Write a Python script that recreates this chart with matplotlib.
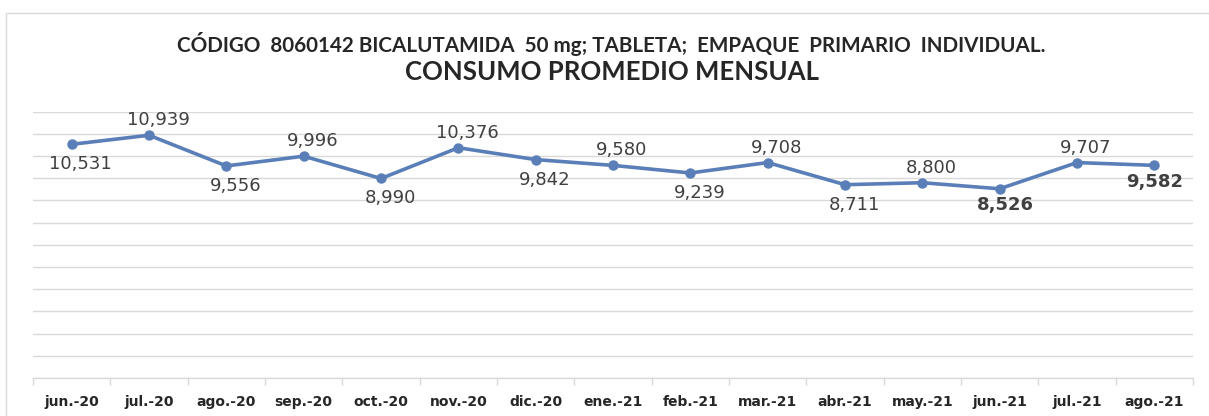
import matplotlib
matplotlib.use("Agg")
import matplotlib.pyplot as plt
from matplotlib.patches import Rectangle

months = ["jun.-20", "jul.-20", "ago.-20", "sep.-20", "oct.-20", "nov.-20", "dic.-20",
          "ene.-21", "feb.-21", "mar.-21", "abr.-21", "may.-21", "jun.-21", "jul.-21", "ago.-21"]
consumo = [10531, 10939, 9556, 9996, 8990, 10376, 9842, 9580, 9239, 9708, 8711, 8800, 8526, 9707, 9582]
label_pos = ["below", "above", "below", "above", "below", "above", "below", "above",
             "below", "above", "below", "above", "below", "above", "below"]
bold_labels = [12, 14]

title1 = "CÓDIGO  8060142 BICALUTAMIDA  50 mg; TABLETA;  EMPAQUE  PRIMARIO  INDIVIDUAL."
title2 = "CONSUMO PROMEDIO MENSUAL"

W, H = 1209, 416
fig = plt.figure(figsize=(W / 100, H / 100), dpi=100)
fig.patch.set_facecolor("white")

# outer chart border
fig.patches.append(Rectangle((6 / W, -0.05), 1.05, (416 - 13) / H + 0.05, transform=fig.transFigure,
                             fill=False, edgecolor="#d9d9d9", linewidth=1.0))

ax = fig.add_axes([33 / W, (H - 378) / H, (1193 - 33) / W, (378 - 111.7) / H])
x = list(range(len(months)))
ax.plot(x, consumo, color="#5a7fb8", linewidth=2.6, marker="o", markersize=6.5,
        markerfacecolor="#5a7fb8", markeredgecolor="#5a7fb8", solid_capstyle="round", zorder=3)

ax.set_xlim(-0.5, len(months) - 0.5)
ax.set_ylim(0, 12000)
ax.set_yticks(range(0, 12001, 1000))
ax.yaxis.grid(True, color="#d9d9d9", linewidth=1.0)
ax.set_axisbelow(True)
ax.tick_params(axis="y", left=False, labelleft=False)
for s in ["left", "right", "top"]:
    ax.spines[s].set_visible(False)
ax.spines["bottom"].set_color("#d9d9d9")
ax.spines["bottom"].set_linewidth(1.0)

ax.set_xticks(x)
ax.set_xticklabels(months, fontsize=10, fontweight="bold", color="#262626", family="DejaVu Sans")
ax.tick_params(axis="x", length=0, pad=12)
ax.set_xticks([i - 0.5 for i in range(len(months) + 1)], minor=True)
ax.tick_params(axis="x", which="minor", length=5, color="#d9d9d9", width=1)

for i, (v, pos) in enumerate(zip(consumo, label_pos)):
    dx, dy = 9, (15 if pos == "above" else -20)
    if i == 14:
        dx, dy = 0, -17
    if i == 12:
        dx, dy = 6, -16
    ax.annotate(f"{v:,}", (i, v), xytext=(dx, dy), textcoords="offset pixels",
                ha="center", va="center", fontsize=13, color="#404040",
                fontweight="bold" if i in bold_labels else "normal", family="DejaVu Sans")

fig.text(611 / W, 1 - 43.5 / H, title1, ha="center", va="center", fontsize=14.9, fontweight="bold",
         family="Lato", color="#262626")
fig.text(612 / W, 1 - 72 / H, title2, ha="center", va="center", fontsize=18.5, fontweight="bold",
         family="Lato", color="#262626")

fig.savefig("out.png", dpi=100)
